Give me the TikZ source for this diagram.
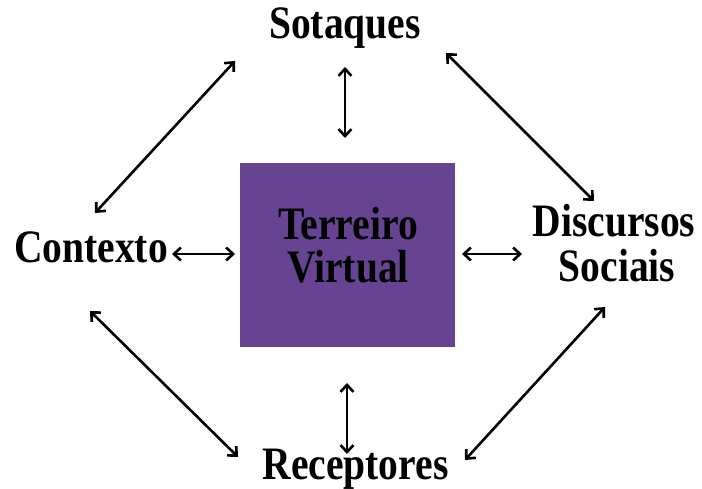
\documentclass[tikz,border=0pt]{standalone}
\usepackage{fontspec}
\newfontfamily\lblfont[FakeStretch=0.85]{Liberation Serif}
\usetikzlibrary{arrows.meta}
\definecolor{boxpurple}{RGB}{102,68,145}
\tikzset{
  lbl/.style={font=\lblfont\bfseries\fontsize{46.5}{44}\selectfont, inner sep=0pt, anchor=base, align=center},
  tip/.style={Straight Barb[length=7pt,width=13pt,line width=2.6pt]},
  dbl/.style={line width=2.6pt, {tip}-{tip}}
}
\tikzset{dbl/.style={line width=2.6pt, {Straight Barb[length=7pt,width=13pt,line width=2.6pt]}-{Straight Barb[length=7pt,width=13pt,line width=2.6pt]}}}
\begin{document}
\begin{tikzpicture}[x=1pt,y=1pt]
\useasboundingbox (0,0) rectangle (702,489);
\node[fill=boxpurple, minimum width=215pt, minimum height=184pt, inner sep=0pt] (box) at (347.5,234) {};
\node[lbl] (terreiro) at (348,249) {Terreiro};
\node[lbl] (virtual) at (348,206) {Virtual};
\node[lbl] (sotaques) at (345,450) {Sotaques};
\node[lbl] (contexto) at (91,226) {Contexto};
\node[lbl] (discursos) at (614,252) {Discursos};
\node[lbl] (sociais) at (617,207) {Sociais};
\node[lbl] (receptores) at (355.5,9) {Receptores};
% arrow end points
\coordinate (s1) at (345,422); \coordinate (s2) at (345,351);
\coordinate (r1) at (347,106); \coordinate (r2) at (347,35);
\coordinate (c1) at (172,235); \coordinate (c2) at (235,235);
\coordinate (d1) at (462,235); \coordinate (d2) at (522,235);
\coordinate (a1) at (95,276); \coordinate (a2) at (235,428);
\coordinate (b1) at (446,436); \coordinate (b2) at (594,288);
\coordinate (e1) at (90,178); \coordinate (e2) at (238,32);
\coordinate (f1) at (605,182); \coordinate (f2) at (465,29);
\draw[dbl] (s1) -- (s2);
\draw[dbl] (r1) -- (r2);
\draw[dbl] (c1) -- (c2);
\draw[dbl] (d1) -- (d2);
\draw[dbl] (a1) -- (a2);
\draw[dbl] (b1) -- (b2);
\draw[dbl] (e1) -- (e2);
\draw[dbl] (f1) -- (f2);
\end{tikzpicture}
\end{document}
